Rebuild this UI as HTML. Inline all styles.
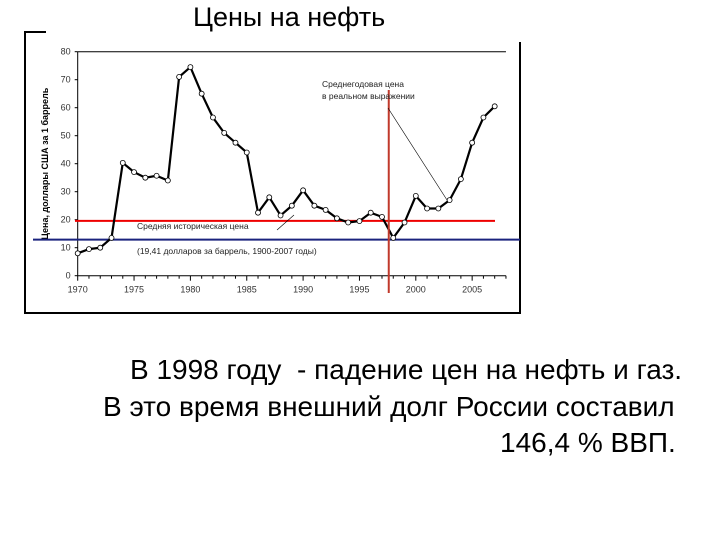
<!DOCTYPE html>
<html><head><meta charset="utf-8"><style>
body{margin:0;background:#fff;}
#wrap{position:relative;width:720px;height:540px;overflow:hidden;font-family:"Liberation Sans",sans-serif;}
.t{position:absolute;white-space:nowrap;color:#000;}
</style></head><body>
<div id="wrap">
<div class="t" style="left:193px;top:2px;font-size:27px;">Цены на нефть</div>
<svg id="chart" width="720" height="330" style="position:absolute;left:0;top:0" font-family="Liberation Sans, sans-serif"></svg>
<div class="t" style="left:130px;top:354px;font-size:28px;">В 1998 году&nbsp; - падение цен на нефть и газ.</div>
<div class="t" style="left:103px;top:391px;font-size:28px;">В это время внешний долг России составил</div>
<div class="t" style="left:500px;top:427px;font-size:28px;">146,4 % ВВП.</div>
</div>
<script>
const years=[1970,1971,1972,1973,1974,1975,1976,1977,1978,1979,1980,1981,1982,1983,1984,1985,1986,1987,1988,1989,1990,1991,1992,1993,1994,1995,1996,1997,1998,1999,2000,2001,2002,2003,2004,2005,2006,2007];
const prices=[8,9.5,10,13.5,40.3,37,35,35.7,34,71,74.5,65,56.5,51,47.5,44,22.5,28,21.5,25,30.5,25,23.5,20.5,19,19.5,22.5,21,13.5,19,28.5,24,24,27,34.5,47.5,56.5,60.5];
const yTicks=[0,10,20,30,40,50,60,70,80];
const xTickLabels=[1970,1975,1980,1985,1990,1995,2000,2005];
const redLevel=19.6, blueLevel=12.9, markerYear=1997.6;
const NS="http://www.w3.org/2000/svg";
const svgEl=document.getElementById('chart');
const X=y=>77.7+(y-1970)*11.27;
const Y=v=>275.7-v*2.8;
function mk(tag,attrs){const e=document.createElementNS(NS,tag);for(const k in attrs)e.setAttribute(k,attrs[k]);svgEl.appendChild(e);return e;}
const frameEl=mk('path',{d:'M46 32 H25 V313 H520 V42',fill:'none',stroke:'#000','stroke-width':2});


const plotTop=mk('line',{x1:X(1970),y1:Y(80),x2:X(2008),y2:Y(80),stroke:'#000','stroke-width':1});


const yAxisEl=mk('line',{x1:X(1970),y1:Y(80),x2:X(1970),y2:Y(0),stroke:'#000','stroke-width':1});


const xAxisEl=mk('line',{x1:X(1970),y1:Y(0),x2:X(2008),y2:Y(0),stroke:'#000','stroke-width':1});


yTicks.forEach(v=>{
 mk('line',{x1:X(1970)-3,y1:Y(v),x2:X(1970),y2:Y(v),stroke:'#000'});
 const t=mk('text',{x:X(1970)-7,y:Y(v)+3,'font-size':9,'text-anchor':'end',fill:'#333'});
 t.textContent=v;
 
 
});
for(let yr=1970;yr<=2008;yr++){mk('line',{x1:X(yr),y1:Y(0),x2:X(yr),y2:Y(0)+(yr%5==0?5:3),stroke:'#000'});}
xTickLabels.forEach(yr=>{
 const t=mk('text',{x:X(yr),y:Y(0)+17,'font-size':9,'text-anchor':'middle',fill:'#333'});
 t.textContent=yr;
 
 
});
const yTitle=mk('text',{x:0,y:0,'font-size':9,'font-weight':'bold','text-anchor':'middle',transform:'translate(48,'+((Y(80)+Y(0))/2)+') rotate(-90)'});
yTitle.textContent='Цена, доллары США за 1 баррель';


const redLine=mk('line',{x1:75,y1:Y(redLevel),x2:495,y2:Y(redLevel),stroke:'#e00','stroke-width':2});


const blueLine=mk('line',{x1:33,y1:Y(blueLevel),x2:520,y2:Y(blueLevel),stroke:'#1a237e','stroke-width':2});


const pts=years.map((y,i)=>X(y)+','+Y(prices[i])).join(' ');
const priceLine=mk('polyline',{points:pts,fill:'none',stroke:'#000','stroke-width':2.2});


years.forEach((y,i)=>{
 const c=mk('circle',{cx:X(y),cy:Y(prices[i]),r:2.5,fill:'#fff',stroke:'#000','stroke-width':0.8});
 
 
});
const vLine=mk('line',{x1:X(markerYear),y1:90,x2:X(markerYear),y2:293,stroke:'#c0392b','stroke-width':2});


mk('line',{x1:388,y1:108,x2:447,y2:200,stroke:'#000','stroke-width':0.6});
mk('line',{x1:277,y1:230,x2:294,y2:215,stroke:'#000','stroke-width':0.6});
[['Среднегодовая цена',322,87],['в реальном выражении',322,99],['Средняя историческая цена',137,229],['(19,41 долларов за баррель, 1900-2007 годы)',137,254]].forEach(a=>{
 const t=mk('text',{x:a[1],y:a[2],'font-size':8.5,fill:'#222'});
 t.textContent=a[0];
 
 
});
</script>
</body></html>
